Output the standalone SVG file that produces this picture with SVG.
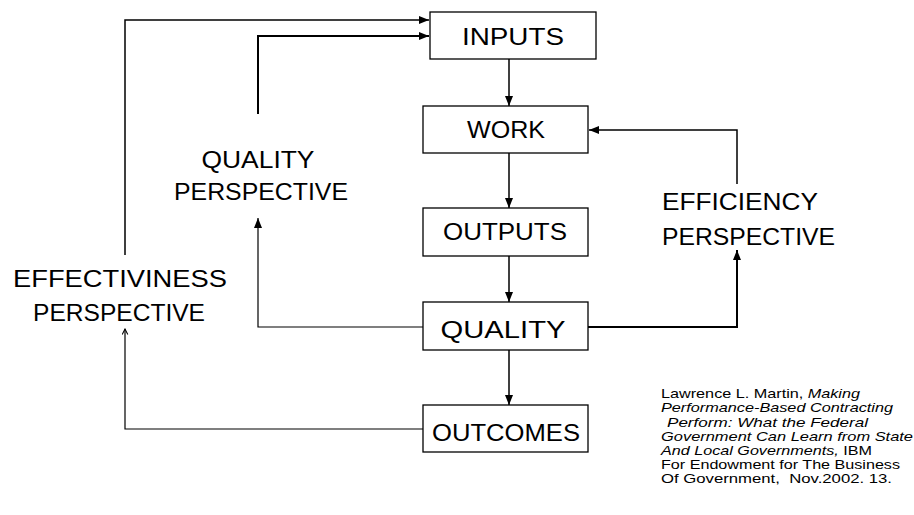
<svg xmlns="http://www.w3.org/2000/svg" width="914" height="515" viewBox="0 0 914 515">
<style>
.box{fill:#fff;stroke:#000;stroke-width:1.3}
.t{font-family:"Liberation Sans",Arial,sans-serif;font-size:24px;fill:#000;text-anchor:middle}
.p{font-family:"Liberation Sans",Arial,sans-serif;font-size:24px;fill:#000}
.c{font-family:"Liberation Sans",Arial,sans-serif;font-size:13.5px;fill:#000}
.i{font-style:italic}
.w{fill:none;stroke:#000}
</style>
<defs>
<marker id="ah" viewBox="0 0 10 10" refX="10" refY="5" markerWidth="10" markerHeight="10" markerUnits="userSpaceOnUse" orient="auto">
<path d="M0,1 L10,5 L0,9 Z" fill="#000"/>
</marker>
<marker id="ao" viewBox="0 0 10 10" refX="9" refY="5" markerWidth="7" markerHeight="7" markerUnits="userSpaceOnUse" orient="auto">
<path d="M1,1 L9,5 L1,9" fill="none" stroke="#000" stroke-width="1.5"/>
</marker>
</defs>
<rect width="914" height="515" fill="#fff"/>
<g id="connectors">
<polyline class="w" stroke-width="1.5" stroke="#444" points="125,255 125,20 429,20" marker-end="url(#ah)"/>
<polyline class="w" stroke-width="2" points="258,114 258,36 429,36" marker-end="url(#ah)"/>
<line class="w" stroke-width="1.5" x1="509" y1="59" x2="509" y2="106" marker-end="url(#ah)"/>
<line class="w" stroke-width="1.5" x1="509" y1="153" x2="509" y2="208" marker-end="url(#ah)"/>
<line class="w" stroke-width="1.5" x1="509" y1="256" x2="509" y2="302" marker-end="url(#ah)"/>
<line class="w" stroke-width="1.5" x1="509" y1="350" x2="509" y2="405" marker-end="url(#ah)"/>
<polyline class="w" stroke-width="1.2" points="423,327 258,327 258,218" marker-end="url(#ah)"/>
<polyline class="w" stroke-width="1.2" points="423,429 125,429 125,329" marker-end="url(#ao)"/>
<polyline class="w" stroke-width="2" points="588,327 737,327 737,250" marker-end="url(#ah)"/>
<polyline class="w" stroke-width="1.5" points="737,184 737,130 589,130" marker-end="url(#ah)"/>
</g>
<g id="inputs"><rect class="box" x="430" y="12" width="166" height="47"/><text class="t" x="513" y="45" textLength="102" lengthAdjust="spacingAndGlyphs">INPUTS</text></g>
<g id="work"><rect class="box" x="423" y="106" width="165" height="47"/><text class="t" x="506" y="138" textLength="78" lengthAdjust="spacingAndGlyphs">WORK</text></g>
<g id="outputs"><rect class="box" x="423" y="208" width="165" height="48"/><text class="t" x="505" y="240" textLength="124" lengthAdjust="spacingAndGlyphs">OUTPUTS</text></g>
<g id="quality"><rect class="box" x="423" y="302" width="165" height="48"/><text class="t" x="503" y="338" textLength="125" lengthAdjust="spacingAndGlyphs">QUALITY</text></g>
<g id="outcomes"><rect class="box" x="423" y="405" width="165" height="47"/><text class="t" x="506" y="441" textLength="148" lengthAdjust="spacingAndGlyphs">OUTCOMES</text></g>
<g id="quality-perspective">
<text class="t" x="258" y="168" textLength="113" lengthAdjust="spacingAndGlyphs">QUALITY</text>
<text class="t" x="261" y="200" textLength="174" lengthAdjust="spacingAndGlyphs">PERSPECTIVE</text>
</g>
<g id="efficiency-perspective">
<text class="p" x="662" y="210" textLength="156" lengthAdjust="spacingAndGlyphs">EFFICIENCY</text>
<text class="p" x="662" y="245" textLength="173" lengthAdjust="spacingAndGlyphs">PERSPECTIVE</text>
</g>
<g id="effectiviness-perspective">
<text class="t" x="120" y="287" textLength="214" lengthAdjust="spacingAndGlyphs">EFFECTIVINESS</text>
<text class="t" x="119" y="321" textLength="172" lengthAdjust="spacingAndGlyphs">PERSPECTIVE</text>
</g>
<g id="citation">
<text class="c" x="661" y="398" textLength="199" lengthAdjust="spacingAndGlyphs">Lawrence L. Martin, <tspan class="i">Making</tspan></text>
<text class="c i" x="661" y="412" textLength="232" lengthAdjust="spacingAndGlyphs">Performance-Based Contracting</text>
<text class="c i" x="667" y="427" textLength="201" lengthAdjust="spacingAndGlyphs">Perform: What the Federal</text>
<text class="c i" x="661" y="441" textLength="252" lengthAdjust="spacingAndGlyphs">Government Can Learn from State</text>
<text class="c" x="661" y="455" textLength="211" lengthAdjust="spacingAndGlyphs"><tspan class="i">And Local Governments,</tspan> IBM</text>
<text class="c" x="661" y="469" textLength="239" lengthAdjust="spacingAndGlyphs">For Endowment for The Business</text>
<text class="c" x="661" y="483" textLength="231" lengthAdjust="spacingAndGlyphs" xml:space="preserve">Of Government,  Nov.2002. 13.</text>
</g>
</svg>
